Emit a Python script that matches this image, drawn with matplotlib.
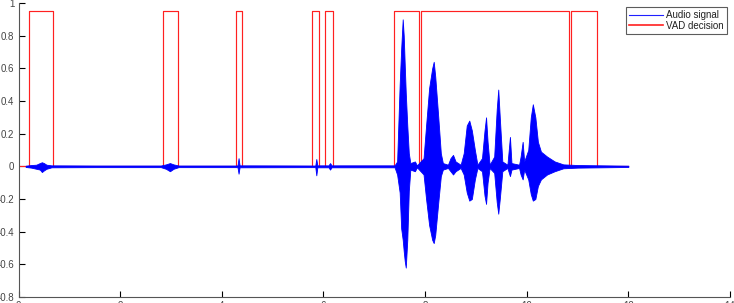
import matplotlib
matplotlib.use("Agg")
import matplotlib.pyplot as plt
from matplotlib.lines import Line2D

plt.rcParams['axes.unicode_minus'] = False
plt.rcParams['font.family'] = ['Liberation Sans', 'DejaVu Sans']

# Audio signal envelope: time (s), upper, lower
env_t = [0.14, 0.25, 0.35, 0.42, 0.46, 0.50, 0.55, 0.65, 1.5, 2.8, 2.9, 2.98, 3.05, 3.15,
         4.28, 4.31, 4.33, 4.35, 5.84, 5.86, 5.88, 6.10, 6.13, 6.16,
         7.40, 7.45, 7.50, 7.53, 7.56, 7.58, 7.60, 7.62, 7.65, 7.68, 7.71, 7.80, 7.84,
         7.97, 8.02, 8.08, 8.14, 8.17, 8.20, 8.26, 8.31, 8.35, 8.45, 8.50, 8.55, 8.60,
         8.70, 8.76, 8.82, 8.87, 8.92, 8.98, 9.03, 9.12, 9.17, 9.20, 9.23, 9.27,
         9.36, 9.41, 9.44, 9.47, 9.52, 9.62, 9.67, 9.70, 9.85, 9.88, 9.92, 9.95,
         10.03, 10.08, 10.12, 10.17, 10.22, 10.28, 10.40, 10.55, 10.72, 11.0, 12.0]
env_hi = [0.004, 0.008, 0.010, 0.020, 0.025, 0.020, 0.010, 0.006, 0.005, 0.005, 0.012, 0.020, 0.012, 0.005,
          0.005, 0.006, 0.050, 0.006, 0.005, 0.045, 0.006, 0.006, 0.020, 0.006,
          0.006, 0.030, 0.50, 0.72, 0.90, 0.80, 0.62, 0.45, 0.25, 0.08, 0.02, 0.03, 0.006,
          0.05, 0.25, 0.48, 0.60, 0.64, 0.55, 0.30, 0.08, 0.02, 0.01, 0.05, 0.07, 0.03,
          0.01, 0.08, 0.25, 0.28, 0.22, 0.10, 0.01, 0.05, 0.22, 0.30, 0.15, 0.01,
          0.06, 0.35, 0.47, 0.30, 0.03, 0.01, 0.18, 0.02, 0.01, 0.06, 0.15, 0.03,
          0.10, 0.30, 0.38, 0.30, 0.15, 0.09, 0.06, 0.03, 0.012, 0.008, 0.004]
env_lo = [-0.004, -0.008, -0.015, -0.020, -0.035, -0.025, -0.015, -0.006, -0.005, -0.005, -0.015, -0.030, -0.015, -0.005,
          -0.005, -0.006, -0.045, -0.006, -0.005, -0.055, -0.006, -0.006, -0.020, -0.006,
          -0.006, -0.05, -0.16, -0.38, -0.45, -0.52, -0.58, -0.62, -0.45, -0.15, -0.02, -0.03, -0.006,
          -0.05, -0.20, -0.36, -0.45, -0.47, -0.42, -0.22, -0.06, -0.02, -0.01, -0.03, -0.05, -0.03,
          -0.01, -0.05, -0.16, -0.21, -0.20, -0.08, -0.01, -0.03, -0.18, -0.23, -0.10, -0.01,
          -0.04, -0.22, -0.29, -0.20, -0.03, -0.01, -0.06, -0.02, -0.01, -0.05, -0.08, -0.02,
          -0.08, -0.17, -0.21, -0.20, -0.12, -0.08, -0.05, -0.03, -0.012, -0.008, -0.004]

# VAD decision intervals
vad_on = [0.20, 2.84, 4.28, 5.775, 6.04, 7.38, 7.92, 10.88]
vad_off = [0.675, 3.13, 4.39, 5.92, 6.18, 7.89, 10.84, 11.38]
vad_level = 0.95
vad_start, vad_end = 0.0, 12.0

xticks = [0, 2, 4, 6, 8, 10, 12, 14]
yticks = [-0.8, -0.6, -0.4, -0.2, 0, 0.2, 0.4, 0.6, 0.8, 1]

fig = plt.figure(figsize=(7.34, 3.03), dpi=100)
ax = fig.add_axes([18.5/734, 1-297/303, (730-18.5)/734, (297-3)/303])

vx = [vad_start]
vy = [0]
for a, b in zip(vad_on, vad_off):
    vx += [a, a, b, b]
    vy += [0, vad_level, vad_level, 0]
vx.append(vad_end)
vy.append(0)
ax.plot(vx, vy, color='#ff2020', lw=0.85, zorder=2)

ax.fill_between(env_t, env_lo, env_hi, color='#0000ff', lw=0.6, zorder=3)

ax.set_xlim(0, 14)
ax.set_ylim(-0.8, 1)
ax.set_xticks(xticks)
ax.set_yticks(yticks)
ax.set_yticklabels([('%g' % v) for v in yticks])
ax.tick_params(direction='in', length=4.5, width=0.8, labelsize=7, labelcolor='#444444',
               color='#000000', pad=3)
for s in ['top', 'right']:
    ax.spines[s].set_visible(False)
for s in ['left', 'bottom']:
    ax.spines[s].set_color('#555555')
    ax.spines[s].set_linewidth(0.8)

handles = [Line2D([], [], color='#2020ff', lw=0.8),
           Line2D([], [], color='#ff2020', lw=1.2)]
leg = ax.legend(handles, ['Audio signal', 'VAD decision'], loc='upper right',
                bbox_to_anchor=(727/734, 1-7/303), bbox_transform=fig.transFigure,
                fontsize=7, frameon=True, fancybox=False, handlelength=3.5,
                borderpad=0.3, labelspacing=0.1, handletextpad=0.4, borderaxespad=0)
leg.get_frame().set_edgecolor('#333333')
leg.get_frame().set_linewidth(0.8)
for t in leg.get_texts():
    t.set_color('#222222')

fig.savefig('out.png', dpi=100)
